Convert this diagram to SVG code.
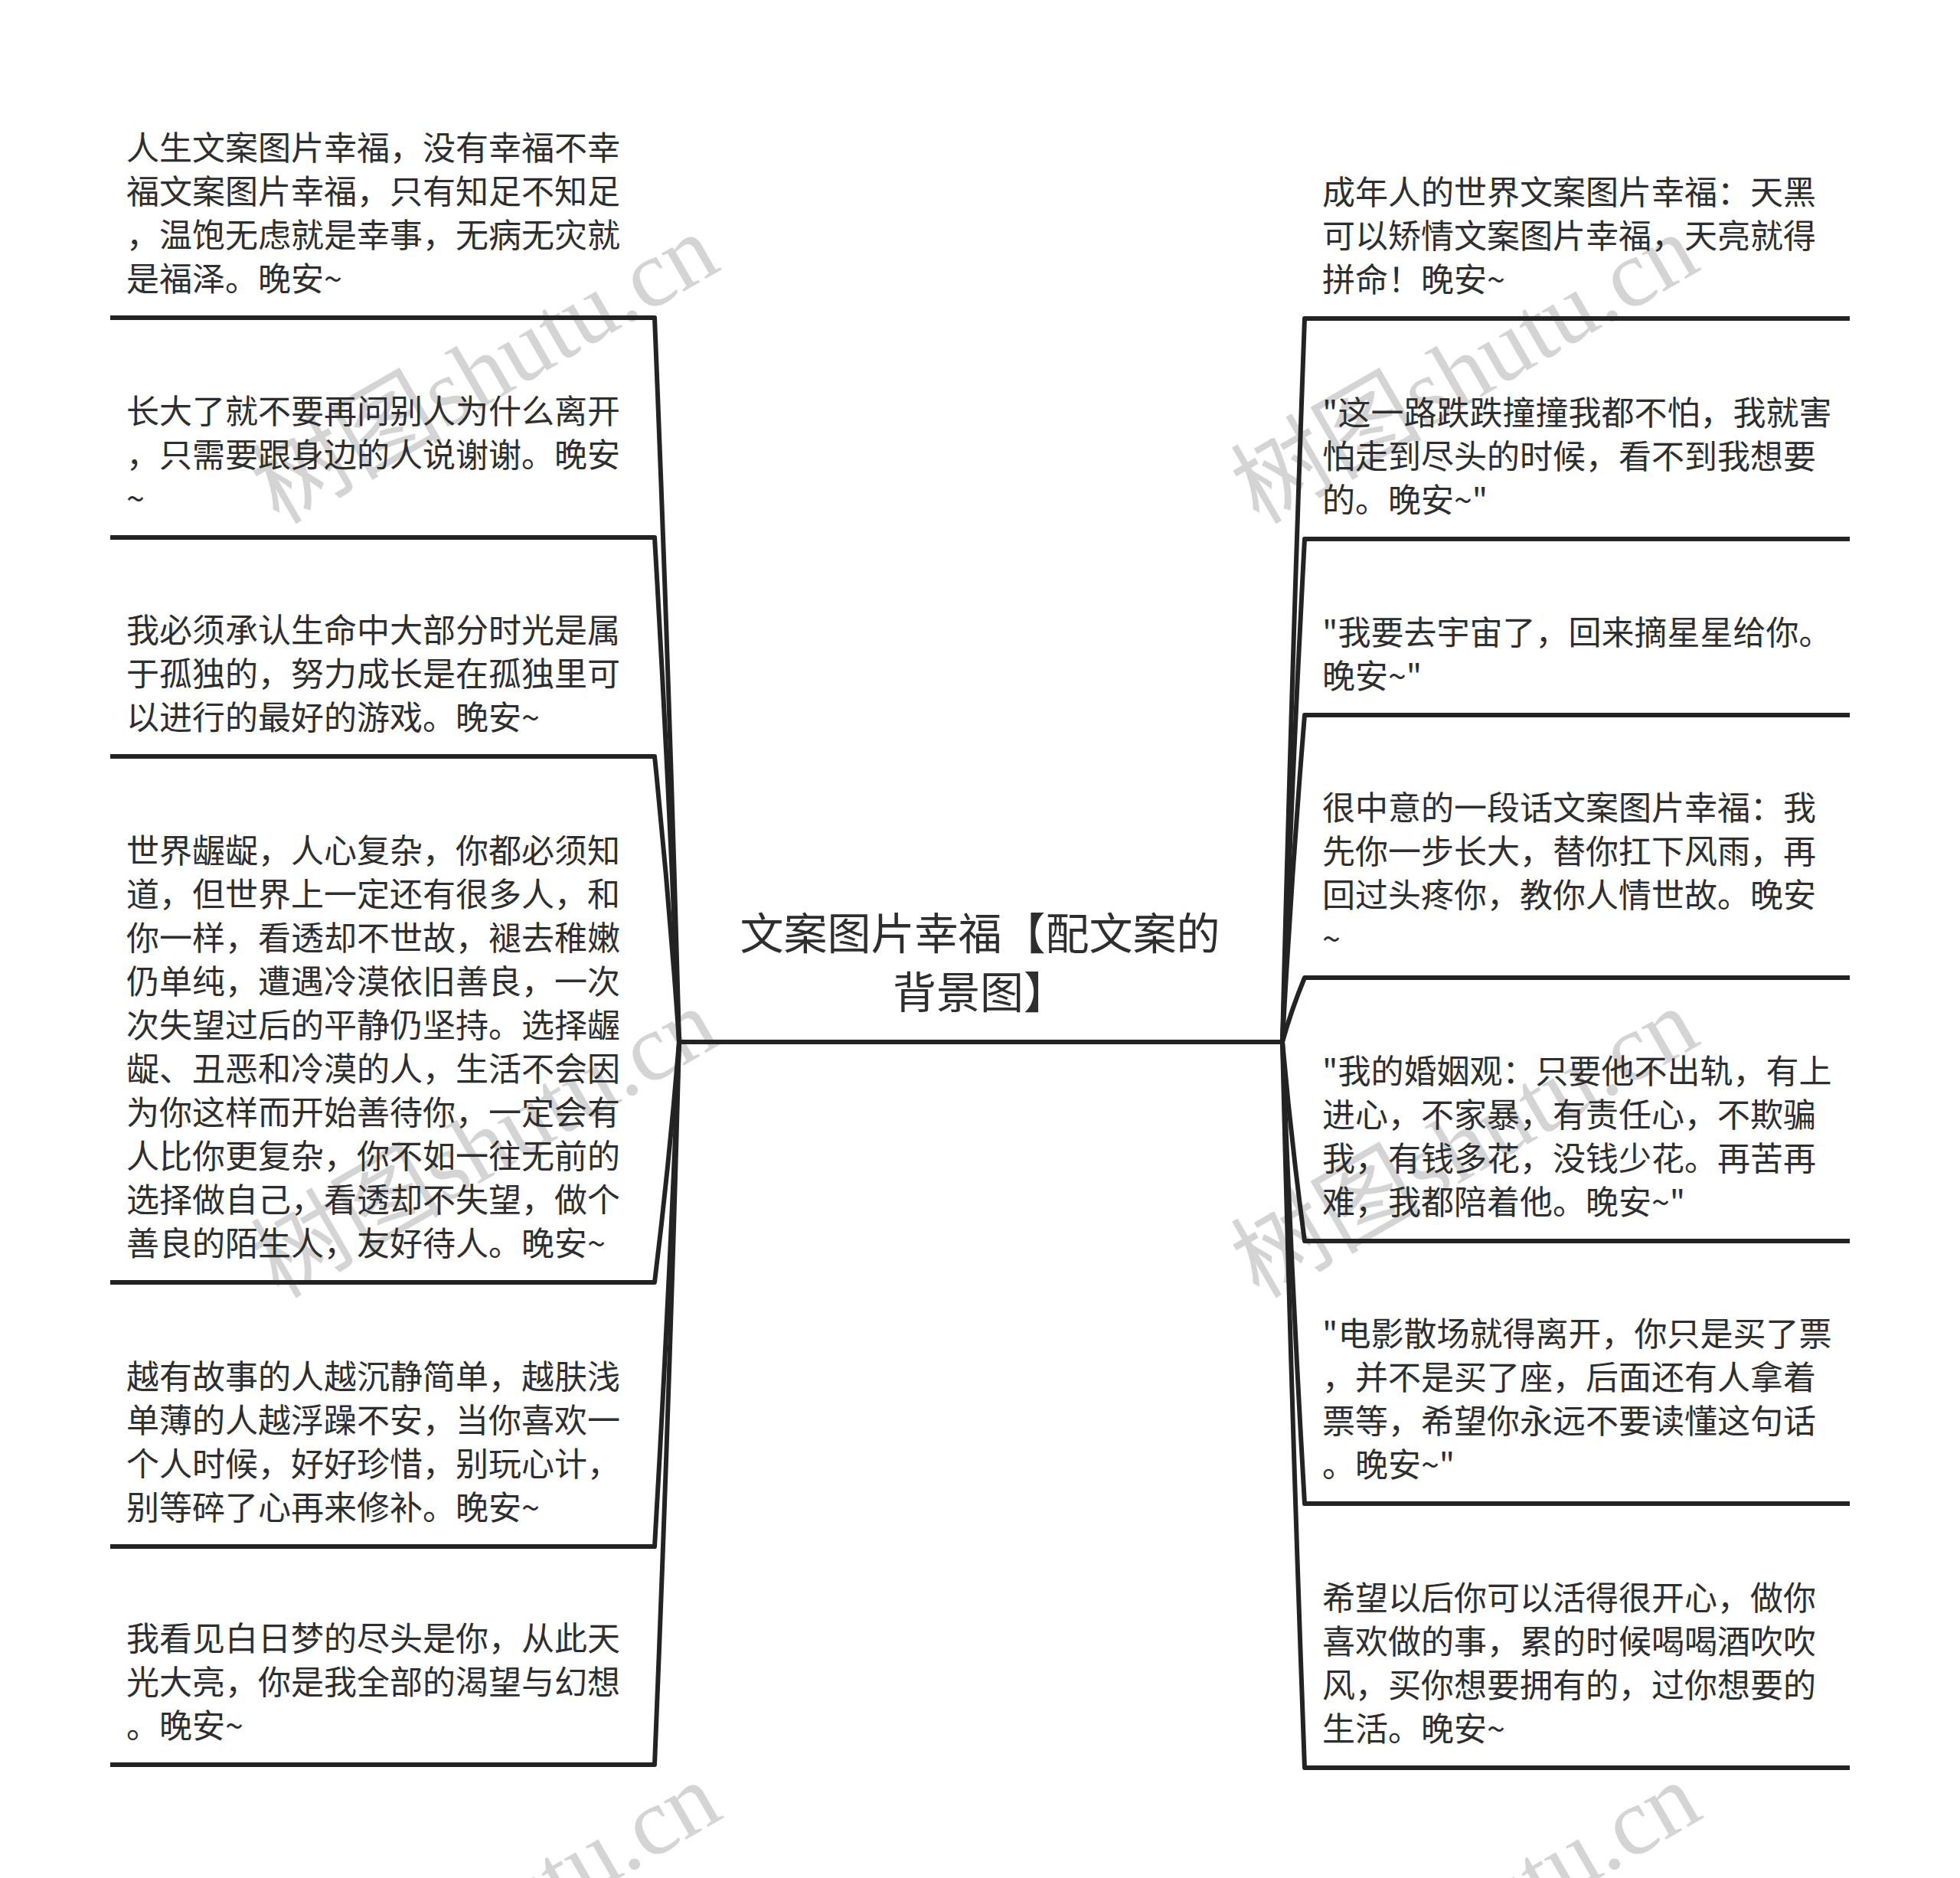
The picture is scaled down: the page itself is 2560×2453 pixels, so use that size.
<svg xmlns="http://www.w3.org/2000/svg" xmlns:xlink="http://www.w3.org/1999/xlink" width="2560" height="2453" viewBox="0 0 2560 2453">
<style>
.t{font-family:"Noto Sans CJK SC","Noto Sans",sans-serif;font-size:43px;fill:#2e2e2e}
.root{font-family:"Noto Sans CJK SC","Noto Sans",sans-serif;font-size:57px;fill:#2e2e2e;text-anchor:middle}
.ul{stroke:#232323;stroke-width:6;fill:none}
.cn{stroke:#232323;stroke-width:6;fill:none;stroke-linecap:round}
.wm{font-family:"Liberation Serif","Noto Sans CJK SC",serif;font-size:125px;fill:#d4d4d4}
</style>
<defs>
<text id="wmt" class="wm">树图shutu.cn</text>
</defs>
<rect width="2560" height="2453" fill="#ffffff"/>
<g id="watermarks">
<use xlink:href="#wmt" transform="translate(364,686) rotate(-30)"/>
<use xlink:href="#wmt" transform="translate(1644,686) rotate(-30)"/>
<use xlink:href="#wmt" transform="translate(364,1697) rotate(-30)"/>
<use xlink:href="#wmt" transform="translate(1644,1697) rotate(-30)"/>
<use xlink:href="#wmt" transform="translate(367,2708) rotate(-30)"/>
<use xlink:href="#wmt" transform="translate(1647,2708) rotate(-30)"/>
</g>
<g id="connectors">
<path class="cn" d="M887 1361 Q874.2 888 855 415"/>
<path class="cn" d="M887 1361 Q874.2 1031.5 855 702"/>
<path class="cn" d="M887 1361 Q874.2 1174.5 855 988"/>
<path class="cn" d="M887 1361 Q874.2 1518 855 1675"/>
<path class="cn" d="M887 1361 Q874.2 1690.5 855 2020"/>
<path class="cn" d="M887 1361 Q874.2 1833 855 2305"/>
<path class="cn" d="M1675 1361 Q1686.6 888.5 1704 416"/>
<path class="cn" d="M1675 1361 Q1686.6 1032.5 1704 704"/>
<path class="cn" d="M1675 1361 Q1686.6 1147.5 1704 934"/>
<path class="cn" d="M1675 1361 Q1686.6 1319 1704 1277"/>
<path class="cn" d="M1675 1361 Q1686.6 1491 1704 1621"/>
<path class="cn" d="M1675 1361 Q1686.6 1662.5 1704 1964"/>
<path class="cn" d="M1675 1361 Q1686.6 1835 1704 2309"/>
</g>
<g id="root">
<line x1="887" y1="1361" x2="1675" y2="1361" stroke="#232323" stroke-width="6"/>
<text class="root"><tspan x="1280" y="1240">文案图片幸福【配文案的</tspan><tspan x="1280" y="1317">背景图】</tspan></text>
</g>
<g id="L1">
<line class="ul" x1="144" y1="415" x2="855" y2="415"/>
<text class="t"><tspan x="165" y="209">人生文案图片幸福，没有幸福不幸</tspan><tspan x="165" y="266">福文案图片幸福，只有知足不知足</tspan><tspan x="165" y="323">，温饱无虑就是幸事，无病无灾就</tspan><tspan x="165" y="380">是福泽。晚安~</tspan></text>
</g>
<g id="L2">
<line class="ul" x1="144" y1="702" x2="855" y2="702"/>
<text class="t"><tspan x="165" y="553">长大了就不要再问别人为什么离开</tspan><tspan x="165" y="610">，只需要跟身边的人说谢谢。晚安</tspan><tspan x="165" y="667">~</tspan></text>
</g>
<g id="L3">
<line class="ul" x1="144" y1="988" x2="855" y2="988"/>
<text class="t"><tspan x="165" y="839">我必须承认生命中大部分时光是属</tspan><tspan x="165" y="896">于孤独的，努力成长是在孤独里可</tspan><tspan x="165" y="953">以进行的最好的游戏。晚安~</tspan></text>
</g>
<g id="L4">
<line class="ul" x1="144" y1="1675" x2="855" y2="1675"/>
<text class="t"><tspan x="165" y="1127">世界龌龊，人心复杂，你都必须知</tspan><tspan x="165" y="1184">道，但世界上一定还有很多人，和</tspan><tspan x="165" y="1241">你一样，看透却不世故，褪去稚嫩</tspan><tspan x="165" y="1298">仍单纯，遭遇冷漠依旧善良，一次</tspan><tspan x="165" y="1355">次失望过后的平静仍坚持。选择龌</tspan><tspan x="165" y="1412">龊、丑恶和冷漠的人，生活不会因</tspan><tspan x="165" y="1469">为你这样而开始善待你，一定会有</tspan><tspan x="165" y="1526">人比你更复杂，你不如一往无前的</tspan><tspan x="165" y="1583">选择做自己，看透却不失望，做个</tspan><tspan x="165" y="1640">善良的陌生人，友好待人。晚安~</tspan></text>
</g>
<g id="L5">
<line class="ul" x1="144" y1="2020" x2="855" y2="2020"/>
<text class="t"><tspan x="165" y="1814">越有故事的人越沉静简单，越肤浅</tspan><tspan x="165" y="1871">单薄的人越浮躁不安，当你喜欢一</tspan><tspan x="165" y="1928">个人时候，好好珍惜，别玩心计，</tspan><tspan x="165" y="1985">别等碎了心再来修补。晚安~</tspan></text>
</g>
<g id="L6">
<line class="ul" x1="144" y1="2305" x2="855" y2="2305"/>
<text class="t"><tspan x="165" y="2156">我看见白日梦的尽头是你，从此天</tspan><tspan x="165" y="2213">光大亮，你是我全部的渴望与幻想</tspan><tspan x="165" y="2270">。晚安~</tspan></text>
</g>
<g id="R1">
<line class="ul" x1="1704" y1="416" x2="2416" y2="416"/>
<text class="t"><tspan x="1727" y="267">成年人的世界文案图片幸福：天黑</tspan><tspan x="1727" y="324">可以矫情文案图片幸福，天亮就得</tspan><tspan x="1727" y="381">拼命！晚安~</tspan></text>
</g>
<g id="R2">
<line class="ul" x1="1704" y1="704" x2="2416" y2="704"/>
<text class="t"><tspan x="1727" y="555">"这一路跌跌撞撞我都不怕，我就害</tspan><tspan x="1727" y="612">怕走到尽头的时候，看不到我想要</tspan><tspan x="1727" y="669">的。晚安~"</tspan></text>
</g>
<g id="R3">
<line class="ul" x1="1704" y1="934" x2="2416" y2="934"/>
<text class="t"><tspan x="1727" y="842">"我要去宇宙了，回来摘星星给你。</tspan><tspan x="1727" y="899">晚安~"</tspan></text>
</g>
<g id="R4">
<line class="ul" x1="1704" y1="1277" x2="2416" y2="1277"/>
<text class="t"><tspan x="1727" y="1071">很中意的一段话文案图片幸福：我</tspan><tspan x="1727" y="1128">先你一步长大，替你扛下风雨，再</tspan><tspan x="1727" y="1185">回过头疼你，教你人情世故。晚安</tspan><tspan x="1727" y="1242">~</tspan></text>
</g>
<g id="R5">
<line class="ul" x1="1704" y1="1621" x2="2416" y2="1621"/>
<text class="t"><tspan x="1727" y="1415">"我的婚姻观：只要他不出轨，有上</tspan><tspan x="1727" y="1472">进心，不家暴，有责任心，不欺骗</tspan><tspan x="1727" y="1529">我，有钱多花，没钱少花。再苦再</tspan><tspan x="1727" y="1586">难，我都陪着他。晚安~"</tspan></text>
</g>
<g id="R6">
<line class="ul" x1="1704" y1="1964" x2="2416" y2="1964"/>
<text class="t"><tspan x="1727" y="1758">"电影散场就得离开，你只是买了票</tspan><tspan x="1727" y="1815">，并不是买了座，后面还有人拿着</tspan><tspan x="1727" y="1872">票等，希望你永远不要读懂这句话</tspan><tspan x="1727" y="1929">。晚安~"</tspan></text>
</g>
<g id="R7">
<line class="ul" x1="1704" y1="2309" x2="2416" y2="2309"/>
<text class="t"><tspan x="1727" y="2103">希望以后你可以活得很开心，做你</tspan><tspan x="1727" y="2160">喜欢做的事，累的时候喝喝酒吹吹</tspan><tspan x="1727" y="2217">风，买你想要拥有的，过你想要的</tspan><tspan x="1727" y="2274">生活。晚安~</tspan></text>
</g>
</svg>
